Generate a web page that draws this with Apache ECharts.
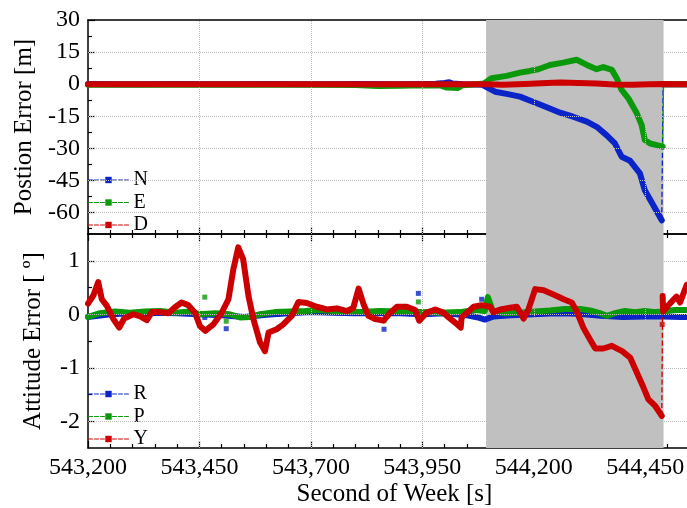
<!DOCTYPE html>
<html><head><meta charset="utf-8">
<script src="https://cdn.jsdelivr.net/npm/echarts@6/dist/echarts.min.js"></script>
<style>html,body{margin:0;padding:0;background:#fff}#c{width:687px;height:508px}</style>
</head><body><div id="c"></div>
<script>
// ---------- axes ----------
const xMin = 543200, xMax = 544575, xStep = 250;
const xGridTicks = [543450, 543700, 543950, 544200, 544450];
const shadeRange = [544093, 544491];
const posRange = [-70, 30];
const posTicks = [30, 15, 0, -15, -30, -45, -60];
const posMinorTicks = [22.5, 7.5, -7.5, -22.5, -37.5, -52.5, -67.5];
const posGrid = [15, 0, -15, -30, -45, -60];
const attRange = [-2.5, 1.5];
const attTicks = [1, 0, -1, -2];
const attMinorTicks = [0.5, -0.5, -1.5];
const attGrid = [1, 0, -1, -2];

// ---------- position error [m] ----------
const posN = [[543200,0.1],[543300,0.0],[543400,0.1],[543500,0.0],[543600,0.1],[543700,0.0],[543800,0.1],[543900,0.0],[543980,0.2],[544000,0.6],[544010,0.9],[544018,0.3],[544040,0.0],[544070,-0.1],[544085,-0.3],[544094,-1.4],[544113,-3.5],[544139,-4.5],[544169,-5.8],[544198,-8.2],[544229,-10.8],[544259,-13.3],[544288,-15.2],[544319,-17.5],[544341,-19.9],[544363,-23.8],[544382,-27.7],[544397,-33.9],[544416,-35.8],[544438,-41.7],[544449,-49.6],[544468,-56.6],[544487,-63.6]];
const posNafter = [[544490,0.0],[544530,0.0],[544575,0.0]];
const posE = [[543200,-0.2],[543300,-0.3],[543400,-0.2],[543500,-0.3],[543600,-0.2],[543700,-0.3],[543800,-0.4],[543850,-0.8],[543900,-0.7],[543950,-0.5],[543990,-0.6],[544005,-1.6],[544030,-1.8],[544040,-0.5],[544070,0.0],[544088,0.3],[544094,1.2],[544105,2.8],[544139,3.9],[544169,5.4],[544191,6.2],[544210,7.0],[544236,9.0],[544266,10.1],[544296,11.4],[544319,9.0],[544341,7.0],[544356,8.0],[544375,6.7],[544386,2.8],[544397,-2.7],[544412,-6.6],[544431,-13.6],[544442,-19.1],[544449,-26.1],[544461,-27.7],[544476,-28.5],[544489,-29.2]];
const posEafter = [[544491,0.0],[544530,0.0],[544575,0.0]];
const posD = [[543200,0],[543400,0],[543600,0],[543800,0],[544000,0],[544094,0],[544130,-0.2],[544180,0.1],[544230,0.6],[544260,0.8],[544300,0.6],[544340,0.3],[544380,-0.1],[544420,-0.2],[544460,0.0],[544491,0.1],[544530,0],[544575,0]];

// ---------- attitude error [deg] ----------
const attR = [[543200,-0.05],[543250,0.0],[543300,0.02],[543350,0.03],[543400,0.02],[543450,0.0],[543500,-0.02],[543550,-0.05],[543600,-0.01],[543650,0.02],[543700,0.04],[543750,0.03],[543800,0.02],[543850,0.02],[543900,0.02],[543950,0.0],[544000,0.02],[544050,-0.02],[544075,-0.06],[544090,-0.10],[544110,-0.04],[544150,-0.02],[544200,0.0],[544250,0.02],[544300,0.01],[544350,-0.03],[544400,-0.05],[544450,-0.04],[544490,-0.04],[544530,-0.05],[544575,-0.05]];
const attP = [[543200,-0.05],[543227,0.02],[543261,0.05],[543294,0.03],[543328,0.05],[543362,0.06],[543395,0.03],[543429,0.05],[543451,0.0],[543485,0.02],[543518,0.0],[543541,-0.06],[543563,-0.05],[543586,0.0],[543619,0.04],[543653,0.05],[543687,0.06],[543720,0.08],[543765,0.05],[543810,0.04],[543855,0.06],[543900,0.05],[543945,0.04],[543990,0.03],[544034,0.04],[544068,0.08],[544090,0.06],[544097,0.32],[544108,0.06],[544135,0.02],[544169,0.03],[544203,0.05],[544236,0.07],[544270,0.10],[544304,0.10],[544326,0.07],[544348,0.02],[544364,-0.03],[544382,0.02],[544404,0.06],[544427,0.04],[544449,0.06],[544472,0.04],[544490,0.05],[544516,0.08],[544543,0.08],[544575,0.1]];
const attY = [[543200,0.2],[543212,0.35],[543223,0.60],[543231,0.28],[543242,0.16],[543257,-0.09],[543270,-0.25],[543281,-0.08],[543302,0.0],[543317,-0.04],[543332,-0.11],[543343,0.04],[543362,0.04],[543380,0.02],[543395,0.13],[543410,0.22],[543425,0.17],[543440,0.03],[543451,-0.22],[543463,-0.31],[543481,-0.19],[543500,0.03],[543515,0.28],[543526,0.84],[543537,1.25],[543548,1.03],[543560,0.34],[543571,-0.09],[543586,-0.53],[543597,-0.69],[543605,-0.34],[543623,-0.28],[543638,-0.19],[543657,-0.03],[543672,0.23],[543691,0.21],[543713,0.14],[543736,0.09],[543758,0.11],[543781,0.06],[543795,0.12],[543807,0.48],[543818,0.19],[543829,-0.03],[543844,-0.09],[543863,-0.12],[543878,0.03],[543893,0.14],[543915,0.14],[543934,0.08],[543943,-0.12],[543960,0.03],[543979,0.09],[543997,0.03],[544009,-0.06],[544024,-0.16],[544036,-0.25],[544038,-0.06],[544065,0.14],[544083,0.17],[544102,0.14],[544109,0.04],[544125,0.09],[544147,0.12],[544162,0.14],[544177,-0.08],[544188,0.09],[544203,0.47],[544222,0.45],[544244,0.37],[544267,0.28],[544285,0.22],[544296,0.06],[544311,-0.25],[544326,-0.47],[544338,-0.64],[544356,-0.64],[544375,-0.59],[544398,-0.69],[544416,-0.81],[544431,-1.09],[544446,-1.37],[544457,-1.59],[544472,-1.71],[544487,-1.90]];
const attYafter = [[544489,0.34],[544490,0.06],[544497,0.12],[544505,0.2],[544520,0.33],[544528,0.22],[544539,0.46],[544543,0.55],[544560,0.6],[544575,0.65]];
const outR = [[543462,-0.06],[543510,-0.27],[543864,-0.28],[543941,0.39],[544083,0.28]];
const outP = [[543462,0.32],[543510,-0.13],[543864,-0.12],[543941,0.23]];
const outY = [[544488,-0.19]];

const C = {N:'#0a24c8', E:'#0a990a', D:'#cc0000'};
const FONT = "'Liberation Serif','DejaVu Serif',serif";
const fmt = v => String(v).replace(/\B(?=(\d{3})+(?!\d))/g, ',');

function xAx(grid, pos, labels, ticks) {
  return {
    type:'value', gridIndex:grid, position:pos, min:xMin, max:xMax, interval:xStep,
    axisLine:{show:true, onZero:false, lineStyle:{color:'#000', width:1.5}},
    axisTick:{show:ticks, inside:true, length:7, lineStyle:{color:'#000', width:1.2}},
    minorTick:{show:ticks, splitNumber:5, length:4, lineStyle:{color:'#000', width:1.2}},
    axisLabel:{show:labels, showMaxLabel:false, formatter:fmt, color:'#000', fontSize:24, fontFamily:FONT, margin:8},
    splitLine:{show:false},
    name: labels ? 'Second of Week [s]' : '', nameLocation:'middle', nameGap:34,
    nameTextStyle:{color:'#000', fontSize:25, fontFamily:FONT}
  };
}
function yAx(grid, range, ticks, name, minor) {
  return {
    type:'value', gridIndex:grid, position:'left', min:range[0], max:range[1],
    axisLine:{show:!minor, onZero:false, lineStyle:{color:'#000', width:1.5}},
    axisTick:{show:true, inside:true, length: minor ? 4 : 7, customValues:ticks, lineStyle:{color:'#000', width:1.2}},
    axisLabel:{show:!minor, customValues:ticks, color:'#000', fontSize:24, fontFamily:FONT, margin:8},
    splitLine:{show:false},
    name: minor ? '' : name, nameLocation:'middle', nameGap:42,
    nameTextStyle:{color:'#000', fontSize:25, fontFamily:FONT}
  };
}
function dataSeries(name, data, color, xi, yi, z) {
  return {type:'line', name, data, xAxisIndex:xi, yAxisIndex:yi, z,
    symbol:'rect', symbolSize:6, showSymbol:false, color,
    lineStyle:{width:6, color, join:'round', cap:'round'}, silent:true};
}
function jump(name, a, b, color, xi, yi, z) {
  return {type:'line', name:name+'_jump', data:[a[a.length-1], b[0]], xAxisIndex:xi, yAxisIndex:yi, z,
    showSymbol:false, symbol:'none', lineStyle:{width:1.3, type:'dashed', color}, silent:true};
}
function outliers(name, data, color, xi, yi, z) {
  return {type:'scatter', name:name+'_out', data, xAxisIndex:xi, yAxisIndex:yi, z,
    symbol:'rect', symbolSize:5, itemStyle:{color}, silent:true};
}
function gridLines(xi, yi, hvals) {
  return {type:'line', data:[], xAxisIndex:xi, yAxisIndex:yi, z:1, silent:true,
    markLine:{silent:true, symbol:['none','none'], label:{show:false}, animation:false,
      lineStyle:{type:'dotted', color:'#bcbcbc', width:1},
      data: hvals.map(v=>({yAxis:v})).concat(xGridTicks.map(v=>({xAxis:v})))}};
}
function shade(xi, yi) {
  return {type:'line', data:[], xAxisIndex:xi, yAxisIndex:yi, z:0, silent:true,
    markArea:{silent:true, itemStyle:{color:'#c0c0c0'}, data:[[{xAxis:shadeRange[0]},{xAxis:shadeRange[1]}]]}};
}
function legend(names, top) {
  return {data:names, orient:'vertical', left:88, top, padding:0, itemGap:0.5,
    itemWidth:40, itemHeight:8, selectedMode:false,
    lineStyle:{type:'dashed', width:1}, textStyle:{color:'#000', fontSize:20, fontFamily:FONT, lineHeight:22}};
}

const chart = echarts.init(document.getElementById('c'), null, {renderer:'canvas'});
chart.setOption({
  animation:false,
  backgroundColor:'#fff',
  grid:[{left:88, width:613, top:20, height:214, containLabel:false, outerBoundsMode:'none'},
        {left:88, width:613, top:234, height:214, containLabel:false, outerBoundsMode:'none'}],
  xAxis:[xAx(0,'bottom',false,true), xAx(0,'top',false,false), xAx(1,'bottom',true,true), xAx(1,'top',false,true)],
  yAxis:[yAx(0,posRange,posTicks,'Postion Error [m]',false), yAx(0,posRange,posMinorTicks,'',true),
         yAx(1,attRange,attTicks,'Attitude Error [ º]',false), yAx(1,attRange,attMinorTicks,'',true)],
  legend:[legend(['N','E','D'], 169), legend(['R','P','Y'], 383)],
  series:[
    shade(0,0), shade(2,2),
    gridLines(0,0,posGrid), gridLines(2,2,attGrid),
    dataSeries('N', posN, C.N, 0, 0, 3), dataSeries('N', posNafter, C.N, 0, 0, 3), jump('N', posN, posNafter, C.N, 0, 0, 3),
    dataSeries('E', posE, C.E, 0, 0, 4), dataSeries('E', posEafter, C.E, 0, 0, 4), jump('E', posE, posEafter, C.E, 0, 0, 4),
    dataSeries('D', posD, C.D, 0, 0, 5),
    dataSeries('R', attR, C.N, 2, 2, 3), outliers('R', outR, C.N, 2, 2, 3),
    dataSeries('P', attP, C.E, 2, 2, 4), outliers('P', outP, C.E, 2, 2, 4),
    dataSeries('Y', attY, C.D, 2, 2, 5), dataSeries('Y', attYafter, C.D, 2, 2, 5), jump('Y', attY, attYafter, C.D, 2, 2, 5), outliers('Y', outY, C.D, 2, 2, 5)
  ]
});
</script></body></html>
